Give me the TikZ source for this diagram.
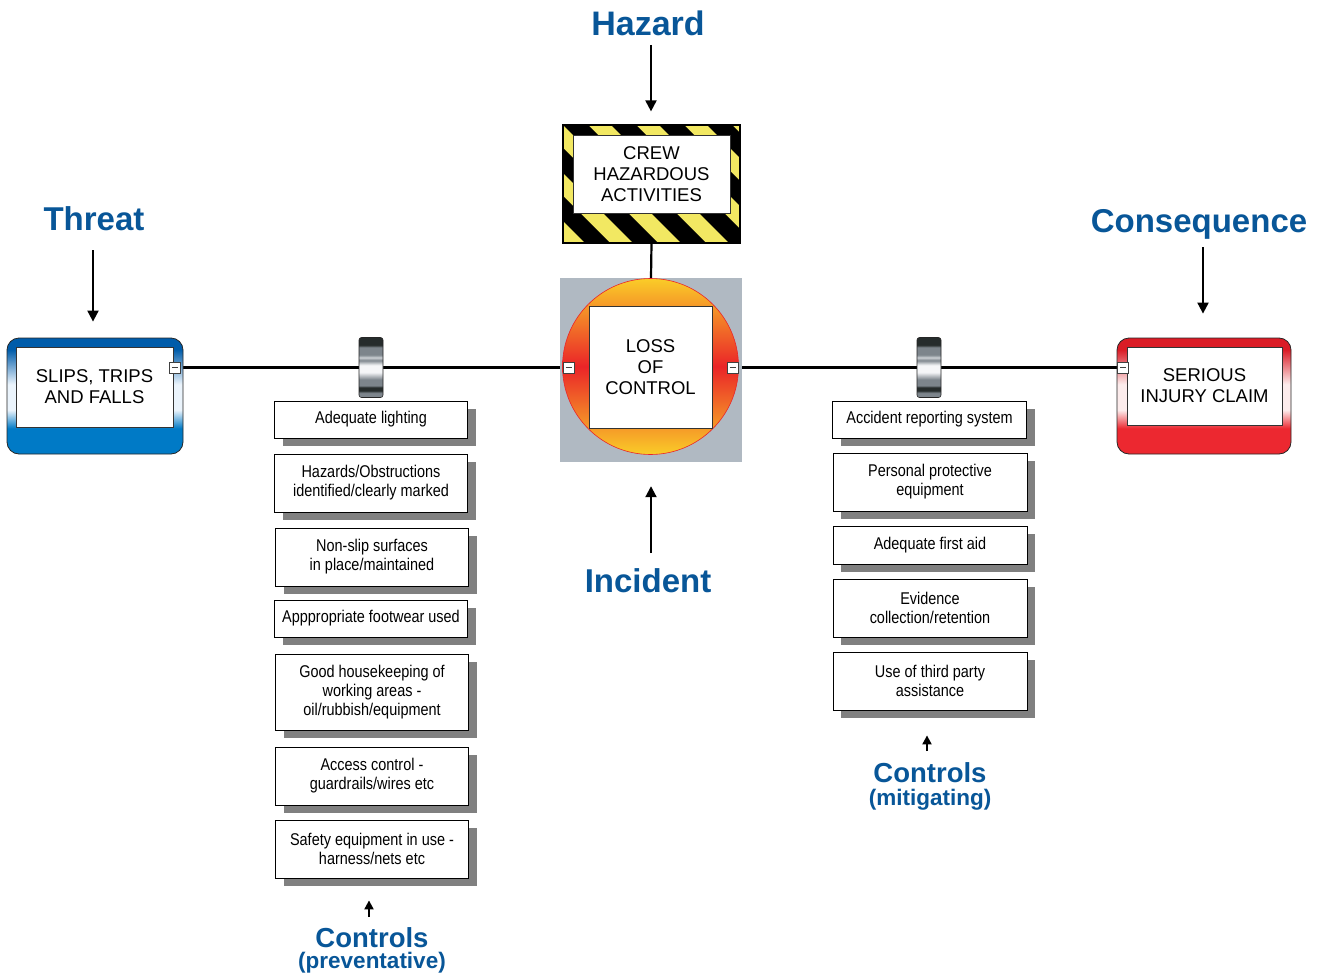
\documentclass[tikz,border=0pt]{standalone}
\usepackage{fontspec}
\setmainfont{Liberation Sans}
\newfontfamily\narrowfont[FakeStretch=0.85]{Liberation Sans}
\usetikzlibrary{arrows.meta,shadows}
\pgfdeclarelayer{bg}
\pgfsetlayers{bg,main}
\definecolor{tblue}{RGB}{8,86,152}
\definecolor{hyellow}{RGB}{242,232,98}
\definecolor{incgray}{RGB}{176,185,194}
\definecolor{fb1}{RGB}{0,92,170}
\definecolor{fb2}{RGB}{0,122,198}
\definecolor{fw}{RGB}{235,244,252}
\definecolor{fr1}{RGB}{218,28,38}
\definecolor{fr2}{RGB}{236,40,48}
\definecolor{frw}{RGB}{252,236,236}
\definecolor{cy}{RGB}{250,205,40}
\definecolor{cr}{RGB}{234,36,40}
\definecolor{shadowgray}{RGB}{128,128,128}
\definecolor{bdk}{RGB}{38,44,44}
\definecolor{bmd}{RGB}{125,133,140}
\definecolor{blt}{RGB}{205,210,214}
\definecolor{bwh}{RGB}{245,246,248}
\pgfdeclareverticalshading{barriershade}{100bp}{color(0bp)=(bmd); color(25bp)=(bmd); color(29bp)=(bmd); color(30.5bp)=(bdk); color(33.5bp)=(bdk); color(35bp)=(bmd); color(40bp)=(bmd); color(46bp)=(bwh); color(52bp)=(bwh); color(56bp)=(bmd); color(58.3bp)=(blt); color(60.5bp)=(bmd); color(67bp)=(bmd); color(68.5bp)=(bdk); color(75bp)=(bdk); color(100bp)=(bdk)}
\pgfdeclareverticalshading{bluefr}{100bp}{color(0bp)=(fb2); color(36bp)=(fb2); color(44bp)=(fw); color(55bp)=(fw); color(70bp)=(fb1); color(100bp)=(fb1)}
\pgfdeclareverticalshading{redfr}{100bp}{color(0bp)=(fr2); color(36bp)=(fr2); color(44bp)=(frw); color(55bp)=(frw); color(70bp)=(fr1); color(100bp)=(fr1)}
\begin{document}
\begin{tikzpicture}[x=1pt,y=-1pt,
  title/.style={font=\fontsize{33}{36}\selectfont\bfseries, text=tblue, inner sep=0pt, anchor=base},
  subtitle/.style={font=\fontsize{27.5}{30}\selectfont\bfseries, text=tblue, inner sep=0pt, anchor=base},
  subsub/.style={font=\fontsize{22.5}{24}\selectfont\bfseries, text=tblue, inner sep=0pt, anchor=base},
  mainbox/.style={font=\fontsize{18.5}{21}\selectfont, align=center, fill=white, draw=black!80, line width=0.6pt, inner sep=0pt},
  frame/.style={rounded corners=12pt, draw=black!85, line width=0.8pt, inner sep=0pt},
  ctrl/.style={draw=black, line width=0.8pt, fill=white, minimum width=193pt, align=center,
    font=\narrowfont\fontsize{17}{19}\selectfont, inner sep=0pt,
    drop shadow={shadow xshift=8pt, shadow yshift=-8pt, fill=shadowgray, opacity=1}},
  collapse/.style={draw=black!75, fill=white, minimum width=11pt, minimum height=11pt, inner sep=0pt, line width=0.7pt,
    path picture={\draw[line width=0.8pt] ([xshift=-3pt]path picture bounding box.center) -- ([xshift=3pt]path picture bounding box.center);}},
  barrier/.style={minimum width=24pt, minimum height=60pt, rounded corners=2.5pt, draw=black!85, line width=0.6pt, shading=barriershade, inner sep=0pt},
  conn/.style={line width=2.1pt, black},
  tarr/.style={line width=2pt, -{Triangle[width=11pt,length=11pt]}},
  sarr/.style={line width=2pt, -{Triangle[width=9pt,length=9pt]}}]
\useasboundingbox (0,0) rectangle (1320,974);

% ---- Hazard ----
\node[title, font=\fontsize{34}{36}\selectfont\bfseries] (hazlbl) at (648,36) {Hazard};
\begin{scope}
  \clip (563,125) rectangle (740,243);
  \fill[hyellow] (563,125) rectangle (740,243);
  \foreach \i in {-4,...,5} {
    \fill[black] ({563+\i*48},125) -- ++(25,0) -- ++(118,118) -- ++(-25,0) -- cycle;
  }
\end{scope}
\node[draw=black, line width=1.2pt, minimum width=177pt, minimum height=118pt, inner sep=0pt] (hazbox) at (651.5,184) {};
\node[mainbox, minimum width=157pt, minimum height=78pt] (hazin) at (651.5,174) {CREW\\HAZARDOUS\\ACTIVITIES};
\coordinate (hazA) at (651,45);
\draw[tarr, shorten >=13pt] (hazA) -- (hazA |- hazbox.north);

% ---- Incident ----
\node[fill=incgray, minimum width=182pt, minimum height=184pt, inner sep=0pt] (incsq) at (651,370) {};
\node[circle, minimum size=176pt, draw=cr, line width=0.6pt, top color=cy, bottom color=cy, middle color=cr, inner sep=0pt] (inccirc) at (650.5,366.5) {};
\node[mainbox, minimum width=123pt, minimum height=122pt] (incbox) at (650.5,367) {LOSS\\OF\\CONTROL};
\node[collapse] (ilcol) at (568.5,367.5) {};
\node[collapse] (ircol) at (732.5,367.5) {};
\node[title] (inclbl) at (648,592) {Incident};
\coordinate (incA) at (651,553);
\draw[tarr, shorten >=24pt] (incA) -- (incA |- incsq.south);

% ---- Threat ----
\node[title] (thrlbl) at (94,230) {Threat};
\node[frame, shading=bluefr, minimum width=176pt, minimum height=116pt] (threat) at (95,396) {};
\node[mainbox, minimum width=157pt, minimum height=80pt] (thrin) at (94.5,387) {SLIPS, TRIPS\\AND FALLS};
\node[collapse] (tcol) at (175,367.5) {};
\coordinate (thrA) at (93,250);
\draw[tarr, shorten >=16pt] (thrA) -- (thrA |- threat.north);

% ---- Consequence ----
\node[title] (conlbl) at (1199,232) {Consequence};
\node[frame, shading=redfr, minimum width=174pt, minimum height=116pt] (conseq) at (1204,396) {};
\node[mainbox, minimum width=155pt, minimum height=78pt] (conin) at (1204.5,386) {SERIOUS\\INJURY CLAIM};
\node[collapse] (ccol) at (1123,367.5) {};
\coordinate (conA) at (1203,247);
\draw[tarr, shorten >=24pt] (conA) -- (conA |- conseq.north);

% ---- connectors ----
\begin{pgfonlayer}{bg}
  \draw[conn] (tcol.east) -- (ilcol.west);
  \draw[conn] (ircol.east) -- (ccol.west);
  \draw[line width=2.2pt] (hazbox.south) -- (incsq.north);
\end{pgfonlayer}

% ---- barriers ----
\node[barrier] (bar1) at (371,367.5) {};
\node[barrier] (bar2) at (929,367.5) {};

% ---- preventative controls ----
\node[ctrl, minimum height=37pt] (p1) at (371,419.5) {Adequate lighting};
\node[ctrl, minimum height=58pt] (p2) at (371,483) {Hazards/Obstructions\\identified/clearly marked};
\node[ctrl, minimum height=58pt] (p3) at (372,557) {Non-slip surfaces\\in place/maintained};
\node[ctrl, minimum height=37pt] (p4) at (371,618.5) {Apppropriate footwear used};
\node[ctrl, minimum height=76pt] (p5) at (372,692) {Good housekeeping of\\working areas -\\oil/rubbish/equipment};
\node[ctrl, minimum height=58pt] (p6) at (372,776) {Access control -\\guardrails/wires etc};
\node[ctrl, minimum height=58pt] (p7) at (372,849) {Safety equipment in use -\\harness/nets etc};
\coordinate (cpA) at (369,917);
\draw[sarr, shorten >=22pt] (cpA) -- (cpA |- p7.south);
\node[subtitle] (cplbl) at (372,947) {Controls};
\node[subsub] (cplbl2) at (372,968) {(preventative)};

% ---- mitigating controls ----
\node[ctrl, minimum width=194pt, minimum height=37pt] (m1) at (929.5,419.5) {Accident reporting system};
\node[ctrl, minimum width=194pt, minimum height=58pt] (m2) at (930,482) {Personal protective\\equipment};
\node[ctrl, minimum width=194pt, minimum height=38pt] (m3) at (930,545) {Adequate first aid};
\node[ctrl, minimum width=194pt, minimum height=58pt] (m4) at (930,608) {Evidence\\collection/retention};
\node[ctrl, minimum width=194pt, minimum height=58pt] (m5) at (930,681) {Use of third party\\assistance};
\coordinate (cmA) at (927,751);
\draw[sarr, shorten >=25pt] (cmA) -- (cmA |- m5.south);
\node[subtitle] (cmlbl) at (930,782) {Controls};
\node[subsub] (cmlbl2) at (930,805) {(mitigating)};
\end{tikzpicture}
\end{document}
